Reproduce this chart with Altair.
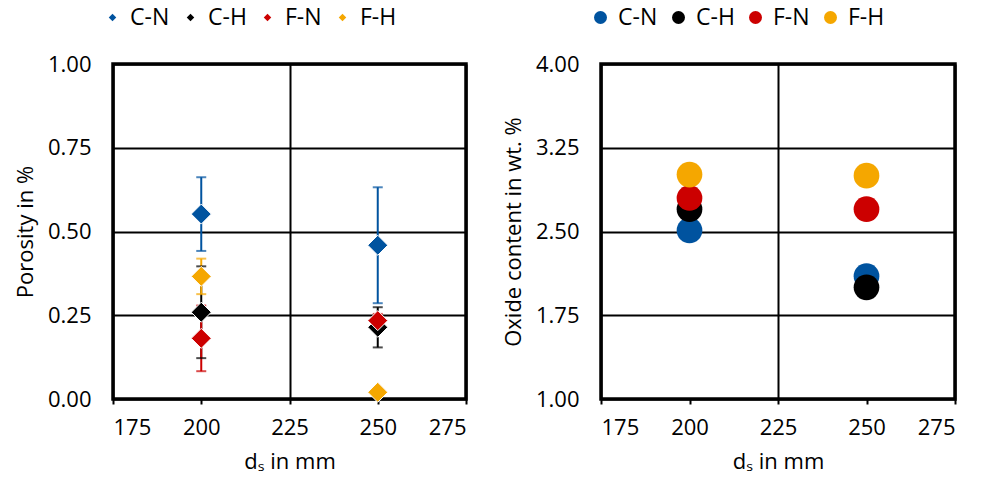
import altair as alt
import pandas as pd

series = ["C-N", "C-H", "F-N", "F-H"]
colors = ["#00539F", "#000000", "#CC0000", "#F5A700"]
ds = [200, 250]

# Porosity (mean, error)
por_CN = [0.552, 0.459]
err_CN = [0.110, 0.173]
por_CH = [0.259, 0.214]
err_CH = [0.137, 0.060]
por_FN = [0.181, 0.234]
err_FN = [0.098, 0.020]
por_FH = [0.366, 0.020]
err_FH = [0.053, 0.005]

# Oxide content
ox_CN = [2.51, 2.10]
ox_CH = [2.70, 2.00]
ox_FN = [2.80, 2.70]
ox_FH = [3.01, 3.00]

x_ticks = [175, 200, 225, 250, 275]
por_ticks = [0.0, 0.25, 0.50, 0.75, 1.0]
ox_ticks = [1.0, 1.75, 2.50, 3.25, 4.0]

por = {"C-N": (por_CN, err_CN), "C-H": (por_CH, err_CH),
       "F-N": (por_FN, err_FN), "F-H": (por_FH, err_FH)}
ox = {"C-N": ox_CN, "C-H": ox_CH, "F-N": ox_FN, "F-H": ox_FH}

rows = []
for i, s in enumerate(series):
    m, e = por[s]
    for j, d in enumerate(ds):
        rows.append({"series": s, "order": i, "ds": d, "por": m[j],
                     "lo": m[j] - e[j], "hi": m[j] + e[j], "ox": ox[s][j]})
df = pd.DataFrame(rows)

FONT = "Open Sans"
color_scale = alt.Scale(domain=series, range=colors)

grid_cond = {"condition": {"test": "datum.value % 50 == 25", "value": 1}, "value": 0}

def x_enc():
    return alt.X("ds:Q", scale=alt.Scale(domain=[175, 275], nice=False),
                 axis=alt.Axis(values=x_ticks, title="dₛ in mm", format="d",
                               gridOpacity=grid_cond, gridColor="black", gridWidth=2,
                               tickSize=5, tickWidth=2, tickColor="black",
                               labelPadding=13, titlePadding=13, domain=False))

def legend(shape, size):
    return alt.Legend(title=None, orient="none", legendX=-12, legendY=-58,
                      direction="horizontal", symbolType=shape, symbolSize=size,
                      symbolStrokeWidth=0, symbolOpacity=1, labelFontSize=23,
                      labelFont=FONT, labelColor="black", labelOffset=6,
                      columnPadding=9, gridAlign="none")

base = alt.Chart(df)

y_por_axis = alt.Axis(values=por_ticks, format=".2f", title="Porosity in %",
                      tickSize=0, labelPadding=22, titlePadding=10,
                      gridColor="black", gridWidth=2, domain=False)
y_scale_por = alt.Scale(domain=[0, 1], nice=False)

left_color = alt.Color("series:N", scale=color_scale, sort=series,
                       legend=legend("diamond", 56))

err_rule = base.mark_rule(strokeWidth=2).encode(
    x=x_enc(), y=alt.Y("lo:Q", scale=y_scale_por, axis=y_por_axis),
    y2="hi:Q", color=left_color, order="order:Q")
err_lo = base.mark_tick(orient="horizontal", size=10, thickness=2).encode(
    x="ds:Q", y="lo:Q", color=left_color)
err_hi = base.mark_tick(orient="horizontal", size=10, thickness=2).encode(
    x="ds:Q", y="hi:Q", color=left_color)
pts = base.mark_point(shape="diamond", filled=True, size=400, opacity=1,
                      stroke="white", strokeWidth=1).encode(
    x="ds:Q", y="por:Q", color=left_color, order="order:Q")

left = alt.layer(err_rule, err_lo, err_hi, pts).properties(width=353, height=335)

right = base.mark_circle(size=660, opacity=1).encode(
    x=x_enc(),
    y=alt.Y("ox:Q", scale=alt.Scale(domain=[1, 4], nice=False),
            axis=alt.Axis(values=ox_ticks, format=".2f", title="Oxide content in wt. %",
                          tickSize=0, labelPadding=22, titlePadding=10,
                          gridColor="black", gridWidth=2, domain=False)),
    color=alt.Color("series:N", scale=color_scale, sort=series,
                    legend=legend("circle", 169)),
    order="order:Q",
).properties(width=354, height=335)

chart = alt.hconcat(left, right, spacing=135, bounds="flush").resolve_scale(
    color="independent"
).configure(
    font=FONT, background="white", padding={"left": 12, "top": 4, "right": 5, "bottom": 5}
).configure_view(
    stroke="black", strokeWidth=3.5
).configure_axis(
    labelFont=FONT, titleFont=FONT, labelFontSize=22, titleFontSize=22,
    labelColor="black", titleColor="black", titleFontWeight="normal"
)

chart.save("out.html", embed_options={"renderer": "svg", "actions": False})
